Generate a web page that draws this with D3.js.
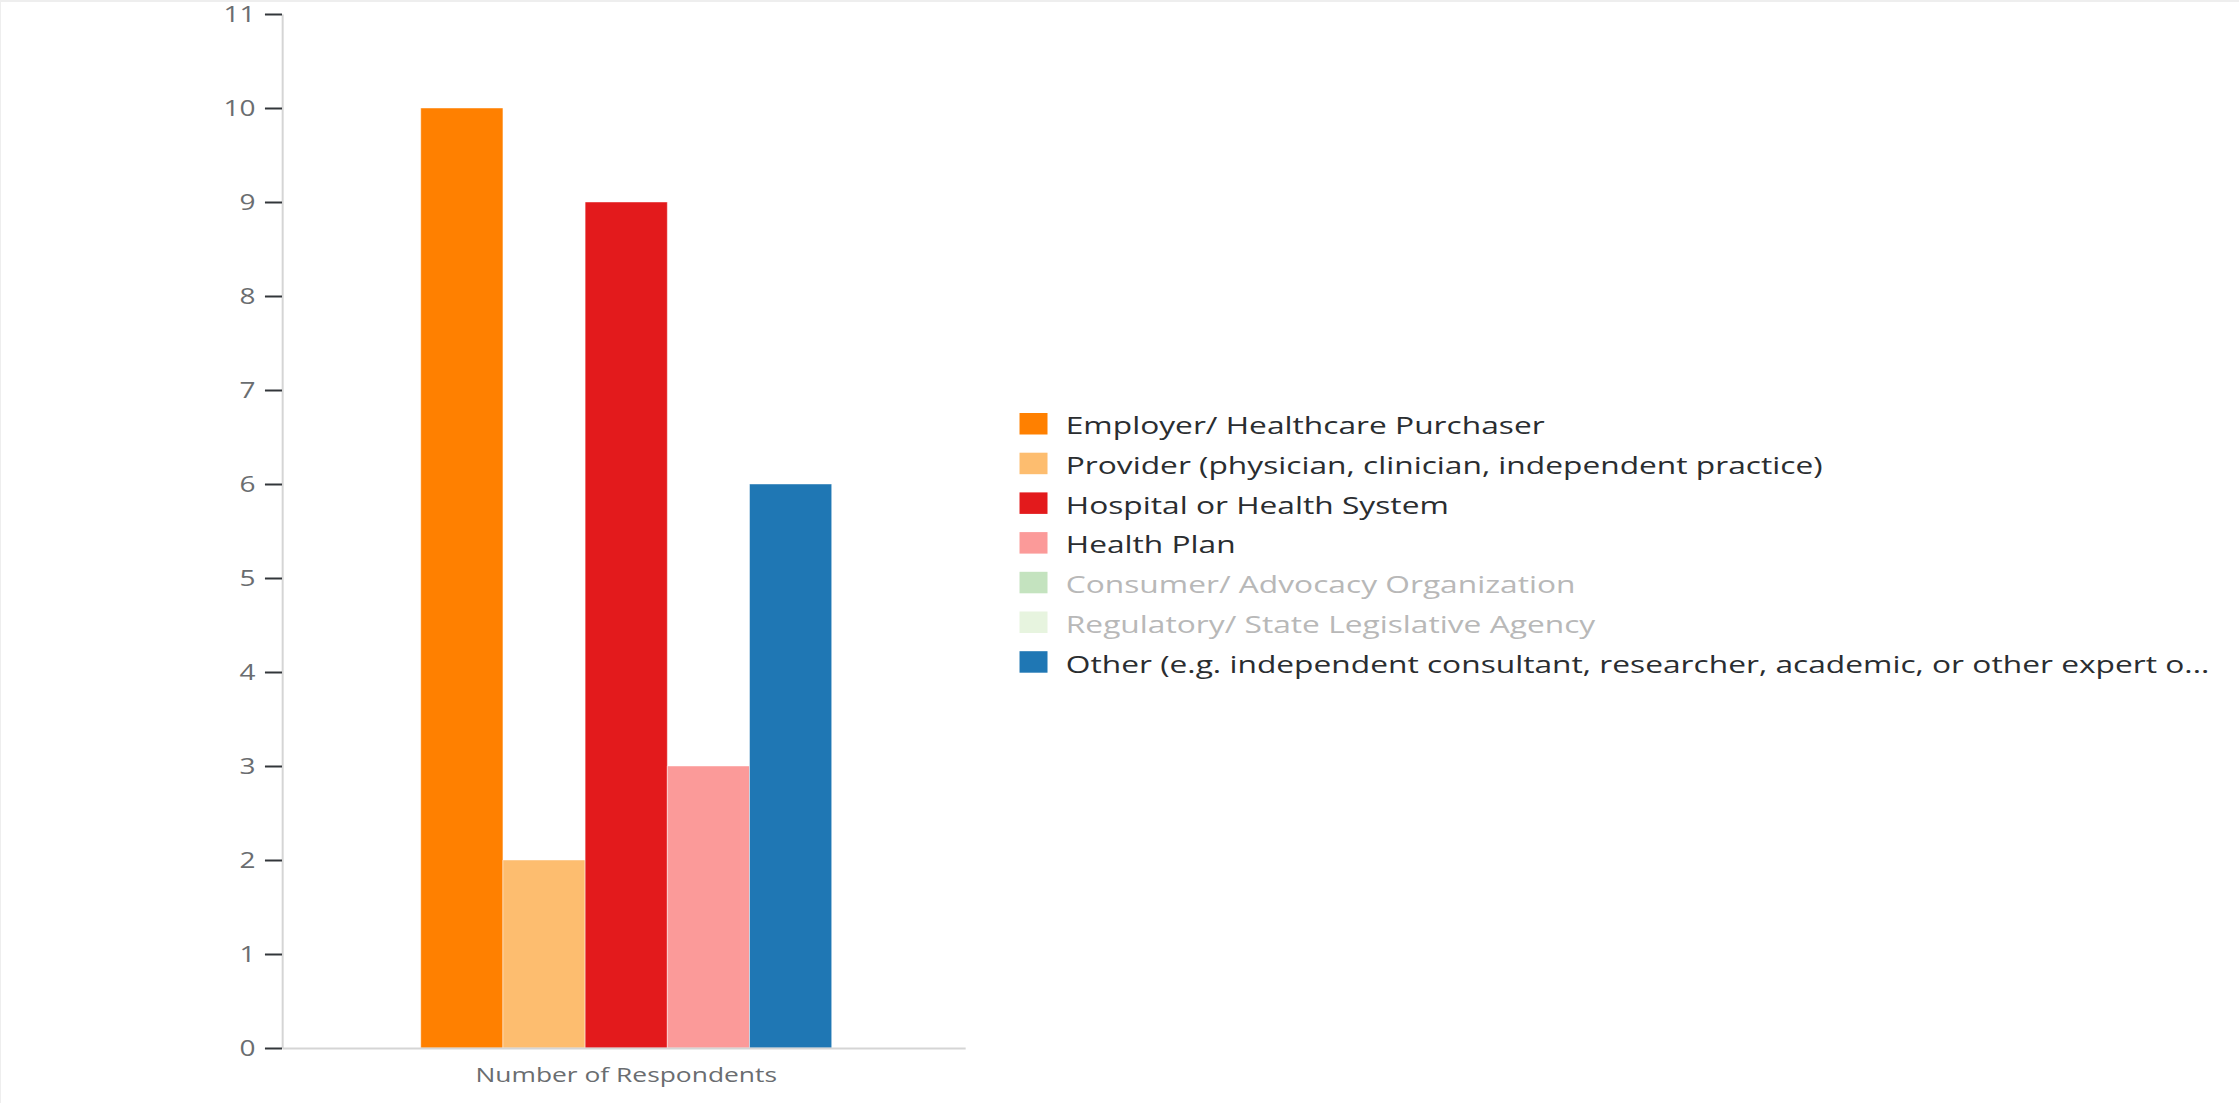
<!DOCTYPE html>
<html>
<head>
<meta charset="utf-8">
<script src="https://cdn.jsdelivr.net/npm/d3@7"></script>
<style>
  html, body { margin: 0; padding: 0; background: #ffffff; overflow: hidden; }
  #frame { position: absolute; left: 0; top: 0; width: 2239px; height: 1103px; box-sizing: border-box;
           border-top: 2px solid #eeeeee; border-left: 1px solid #eeeeee; pointer-events: none; }
  svg { position: absolute; left: 0; top: 0; display: block; }
  text { font-family: "Open Sans", "Noto Sans", sans-serif; }
</style>
</head>
<body>
<div id="chart"></div>
<div id="frame"></div>
<script>
// ---- data ----
const categories = ["Number of Respondents"];
const seriesNames = [
  "Employer/ Healthcare Purchaser",
  "Provider (physician, clinician, independent practice)",
  "Hospital or Health System",
  "Health Plan",
  "Consumer/ Advocacy Organization",
  "Regulatory/ State Legislative Agency",
  "Other (e.g. independent consultant, researcher, academic, or other expert o..."
];
const seriesValues = [10, 2, 9, 3, 0, 0, 6];
const seriesColors = ["#ff8000", "#fdbd6f", "#e31a1c", "#fb9a99", "#c4e3bf", "#e7f4df", "#1f77b4"];
const yTicks = [0, 1, 2, 3, 4, 5, 6, 7, 8, 9, 10, 11];

// ---- layout (drawn in an unstretched space, then stretched horizontally) ----
const W = 2239, H = 1103;
const SX = 1.3327;
const W0 = W / SX;
const plot = { left: 211.6, right: 724.1, top: 14, bottom: 1048 };

const svg = d3.select("#chart").append("svg")
  .attr("width", W).attr("height", H)
  .attr("viewBox", `0 0 ${W0} ${H}`)
  .attr("preserveAspectRatio", "none");

const y = d3.scaleLinear().domain([0, 11]).range([plot.bottom, plot.top]);
const x0 = d3.scaleBand().domain(categories).range([plot.left, plot.right])
  .paddingOuter(0.331).paddingInner(0).align(0.51);

const data = seriesNames.map((n, i) => ({ name: n, value: seriesValues[i], color: seriesColors[i] }));
const shown = data.filter(d => d.value > 0);
const x1 = d3.scaleBand().domain(shown.map(d => d.name)).range([0, x0.bandwidth()]).padding(0);

// bars
svg.append("g")
  .selectAll("g").data(categories).join("g")
  .attr("transform", c => `translate(${x0(c)},0)`)
  .selectAll("rect").data(shown).join("rect")
  .attr("x", d => x1(d.name))
  .attr("y", d => y(d.value))
  .attr("width", x1.bandwidth())
  .attr("height", d => y(0) - y(d.value))
  .attr("fill", d => d.color)
  .attr("stroke", "rgba(255,255,255,0.45)")
  .attr("stroke-width", 1)
  .attr("vector-effect", "non-scaling-stroke");

// y axis
const yAxis = svg.append("g")
  .attr("transform", `translate(${plot.left},0)`)
  .call(d3.axisLeft(y).tickValues(yTicks).tickFormat(d3.format("d")).tickSize(12.8).tickSizeOuter(0).tickPadding(7));
yAxis.select(".domain").attr("stroke", "#d5d5d5").attr("stroke-width", 2).attr("vector-effect", "non-scaling-stroke");
yAxis.selectAll(".tick line").attr("stroke", "#32363a").attr("stroke-width", 2).attr("vector-effect", "non-scaling-stroke");
yAxis.selectAll(".tick text")
  .attr("fill", "#6a6d70").attr("font-size", 21)
  .attr("font-family", "Open Sans, Noto Sans, sans-serif").attr("dy", "0.36em");

// x axis
const xAxis = svg.append("g")
  .attr("transform", `translate(0,${plot.bottom})`)
  .call(d3.axisBottom(x0).tickSize(0).tickSizeOuter(0).tickPadding(0));
xAxis.select(".domain").attr("stroke", "#d5d5d5").attr("stroke-width", 2).attr("vector-effect", "non-scaling-stroke");
xAxis.selectAll(".tick text")
  .attr("fill", "#6a6d70").attr("font-size", 19.8)
  .attr("font-family", "Open Sans, Noto Sans, sans-serif")
  .attr("y", 34).attr("dy", 0);

// legend
const legend = svg.append("g").attr("transform", "translate(765,413)");
const rowH = 39.7;
const items = legend.selectAll("g").data(data).join("g")
  .attr("transform", (d, i) => `translate(0,${i * rowH})`);
items.append("rect")
  .attr("width", 21).attr("height", 21.5)
  .attr("fill", d => d.color);
items.append("text")
  .attr("x", 34.7).attr("y", 21.3)
  .attr("font-size", 23.8)
  .attr("fill", d => d.value > 0 ? "#2a2d30" : "#b8b8b8")
  .text(d => d.name);
</script>
</body>
</html>
